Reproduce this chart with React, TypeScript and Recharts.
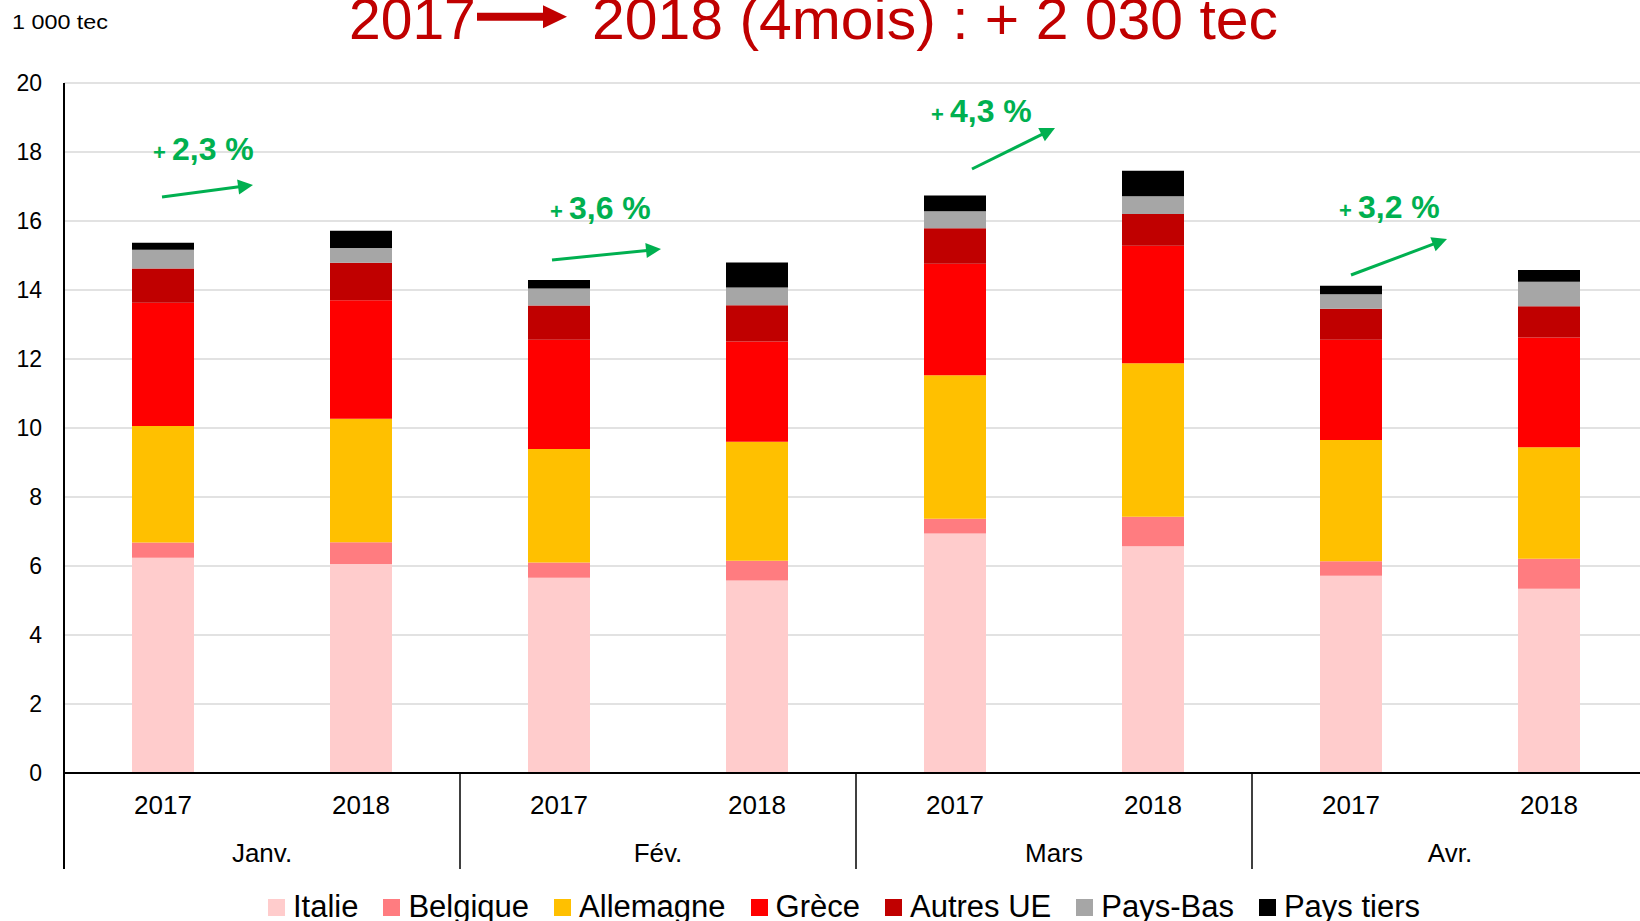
import React from "react";
import { BarChart, Bar, XAxis, YAxis, CartesianGrid, Legend } from "recharts";

// 1 000 tec, par mois, 2017 vs 2018
const months = ["Janv.", "Fév.", "Mars", "Avr."];
const years = ["2017", "2018"];

const italie = [6.24, 6.06, 5.66, 5.58, 6.94, 6.57, 5.72, 5.34];
const belgique = [0.44, 0.63, 0.44, 0.57, 0.43, 0.86, 0.42, 0.87];
const allemagne = [3.38, 3.58, 3.29, 3.45, 4.16, 4.45, 3.51, 3.23];
const grece = [3.57, 3.43, 3.17, 2.91, 3.23, 3.4, 2.91, 3.18];
const autresUE = [0.99, 1.09, 0.99, 1.05, 1.03, 0.92, 0.9, 0.91];
const paysBas = [0.55, 0.43, 0.49, 0.51, 0.49, 0.52, 0.42, 0.71];
const paysTiers = [0.2, 0.5, 0.25, 0.73, 0.46, 0.74, 0.24, 0.34];

const yTicks = [0, 2, 4, 6, 8, 10, 12, 14, 16, 18, 20];
const growthLabels = ["2,3 %", "3,6 %", "4,3 %", "3,2 %"];

const series = [
  { key: "Italie", values: italie, color: "#FFCCCC" },
  { key: "Belgique", values: belgique, color: "#FF7C80" },
  { key: "Allemagne", values: allemagne, color: "#FFC000" },
  { key: "Grèce", values: grece, color: "#FF0000" },
  { key: "Autres UE", values: autresUE, color: "#C00000" },
  { key: "Pays-Bas", values: paysBas, color: "#A6A6A6" },
  { key: "Pays tiers", values: paysTiers, color: "#000000" },
];
const seriesOrder = series.map((s) => s.key);

const data = months.flatMap((m, i) =>
  years.map((y, j) => {
    const k = i * 2 + j;
    const row: any = { key: `${m} ${y}`, month: m, year: y };
    series.forEach((s) => (row[s.key] = s.values[k]));
    return row;
  })
);

// where the green notes sit (text start, arrow start/end)
const notes = [
  { tx: 153, ty: 160, ax1: 162, ay1: 197, ax2: 253, ay2: 185 },
  { tx: 550, ty: 219, ax1: 552, ay1: 260, ax2: 661, ay2: 249 },
  { tx: 931, ty: 122, ax1: 972, ay1: 169, ax2: 1055, ay2: 128 },
  { tx: 1339, ty: 218, ax1: 1351, ay1: 275, ax2: 1447, ay2: 239 },
];

const FONT = "'Liberation Sans', Arial, sans-serif";
const GREEN = "#00B050";
const DARK_RED = "#C00000";

const Arrow = ({ x1, y1, x2, y2, color, sw, hl, hw }: any) => {
  const len = Math.hypot(x2 - x1, y2 - y1);
  const ux = (x2 - x1) / len;
  const uy = (y2 - y1) / len;
  const bx = x2 - ux * hl;
  const by = y2 - uy * hl;
  const px = -uy * (hw / 2);
  const py = ux * (hw / 2);
  return (
    <g>
      <line x1={x1} y1={y1} x2={bx + ux} y2={by + uy} stroke={color} strokeWidth={sw} />
      <polygon
        points={`${x2},${y2} ${bx + px},${by + py} ${bx - px},${by - py}`}
        fill={color}
      />
    </g>
  );
};

const XTick = (props: any) => {
  const { x, y, index, payload } = props;
  const row = data[index];
  const half = payload && payload.offset ? payload.offset : 99;
  if (!row) return null;
  return (
    <g>
      <text x={x} y={y + 41} textAnchor="middle" fontSize={26} fill="#000">
        {row.year}
      </text>
      {index % 2 === 1 && (
        <text x={x - half} y={y + 89} textAnchor="middle" fontSize={26} fill="#000">
          {row.month}
        </text>
      )}
      {index % 2 === 1 && (
        <line x1={x + half} x2={x + half} y1={y} y2={y + 96} stroke="#000" strokeWidth={1.5} />
      )}
      {index === 0 && (
        <line x1={x - half} x2={x - half} y1={y} y2={y + 96} stroke="#000" strokeWidth={2} />
      )}
    </g>
  );
};

const LegendContent = ({ payload }: any) => {
  const items = [...(payload || [])].sort(
    (a: any, b: any) => seriesOrder.indexOf(a.value) - seriesOrder.indexOf(b.value)
  );
  return (
    <div
      style={{
        display: "flex",
        justifyContent: "center",
        alignItems: "center",
        fontFamily: FONT,
        fontSize: 31,
        lineHeight: "34px",
        color: "#000",
      }}
    >
      {items.map((p: any, i: number) => (
        <div
          key={p.value}
          style={{ display: "flex", alignItems: "center", marginRight: i < items.length - 1 ? 25 : 0 }}
        >
          <span style={{ width: 17, height: 17, background: p.color, marginRight: 8, display: "inline-block" }} />
          <span>{p.value}</span>
        </div>
      ))}
    </div>
  );
};

export default function App() {
  return (
    <div
      style={{
        position: "fixed",
        top: 0,
        left: 0,
        width: 1640,
        height: 921,
        overflow: "hidden",
        background: "#fff",
        fontFamily: FONT,
      }}
    >
      <BarChart
        width={1660}
        height={921}
        data={data}
        margin={{ top: 83, right: 12, bottom: 48, left: 0 }}
        barSize={62}
      >
        <CartesianGrid vertical={false} stroke="#D9D9D9" strokeWidth={1.5} />
        <XAxis
          dataKey="key"
          height={100}
          interval={0}
          tickSize={0}
          tickMargin={0}
          tickLine={false}
          axisLine={{ stroke: "#000", strokeWidth: 2 }}
          tick={(p: any) => <XTick {...p} />}
        />
        <YAxis
          width={64}
          domain={[0, 20]}
          ticks={yTicks}
          interval={0}
          tickSize={0}
          tickMargin={22}
          tickLine={false}
          axisLine={{ stroke: "#000", strokeWidth: 2 }}
          tick={{ fill: "#000", fontSize: 23 }}
        />
        <Legend
          layout="horizontal"
          verticalAlign="middle"
          align="center"
          wrapperStyle={{ top: 890, left: 0, width: 1688 }}
          content={(p: any) => <LegendContent {...p} />}
        />
        {series.map((s) => (
          <Bar key={s.key} dataKey={s.key} stackId="a" fill={s.color} isAnimationActive={false} />
        ))}
      </BarChart>

      <svg
        width={1640}
        height={921}
        style={{ position: "absolute", top: 0, left: 0, pointerEvents: "none", fontFamily: FONT }}
      >
        <text x={12} y={29} fontSize={20} textLength={96} lengthAdjust="spacingAndGlyphs" fill="#000">
          1 000 tec
        </text>
        <text x={349} y={39} fontSize={57} fill={DARK_RED}>
          2017
        </text>
        <Arrow x1={477} y1={16.7} x2={567} y2={16.7} color={DARK_RED} sw={8} hl={24} hw={23} />
        <text x={592} y={39} fontSize={57} fill={DARK_RED} textLength={686} lengthAdjust="spacingAndGlyphs">
          2018 (4mois) : + 2 030 tec
        </text>
        {notes.map((n, i) => (
          <g key={i}>
            <text x={n.tx} y={n.ty} fill={GREEN} fontWeight="bold">
              <tspan fontSize={22}>+ </tspan>
              <tspan fontSize={32}>{growthLabels[i]}</tspan>
            </text>
            <Arrow x1={n.ax1} y1={n.ay1} x2={n.ax2} y2={n.ay2} color={GREEN} sw={3} hl={15} hw={15} />
          </g>
        ))}
      </svg>
    </div>
  );
}
